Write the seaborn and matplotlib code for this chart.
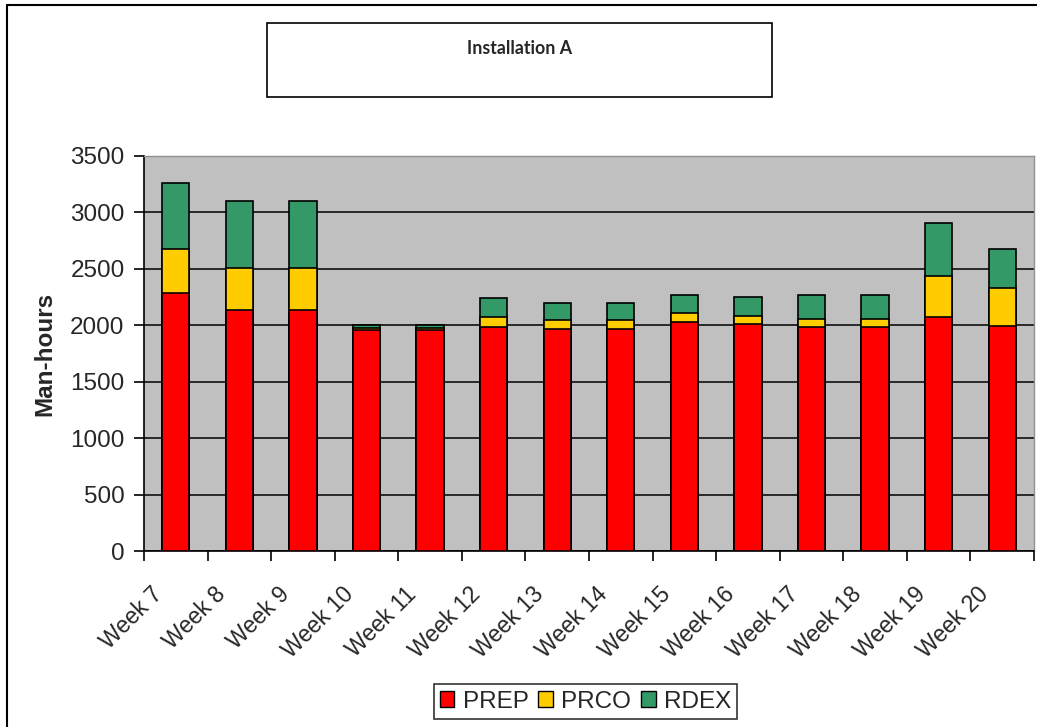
import matplotlib
matplotlib.use("Agg")
import matplotlib.pyplot as plt
import matplotlib.transforms as mtransforms
import seaborn as sns
import pandas as pd
import numpy as np
from matplotlib.patches import Rectangle, Patch
from matplotlib.lines import Line2D

weeks = ["Week 7", "Week 8", "Week 9", "Week 10", "Week 11", "Week 12", "Week 13",
         "Week 14", "Week 15", "Week 16", "Week 17", "Week 18", "Week 19", "Week 20"]
prep = [2285, 2135, 2135, 1955, 1955, 1985, 1970, 1970, 2030, 2015, 1985, 1985, 2075, 1990]
prco = [390, 375, 375, 25, 25, 90, 75, 75, 75, 65, 75, 75, 360, 340]
rdex = [590, 590, 590, 20, 20, 170, 155, 155, 165, 175, 210, 210, 470, 345]
series = ["PREP", "PRCO", "RDEX"]
colors = {"PREP": "#FF0000", "PRCO": "#FFCC00", "RDEX": "#339966"}

sns.set_theme(style="white")
plt.rcParams['font.family'] = ['Liberation Sans', 'DejaVu Sans']

FS = 17.5
W, H = 1037, 727
fig = plt.figure(figsize=(W / 100, H / 100), dpi=100)
ax = fig.add_axes([144 / W, (H - 551) / H, 890 / W, 395 / H])
ax.set_facecolor("#C0C0C0")

df = pd.DataFrame({"week": weeks, "PREP": prep, "PRCO": prco, "RDEX": rdex})
df["c1"] = df["PREP"]
df["c2"] = df["PREP"] + df["PRCO"]
df["c3"] = df["c2"] + df["RDEX"]

for col, s in [("c3", "RDEX"), ("c2", "PRCO"), ("c1", "PREP")]:
    sns.barplot(data=df, x="week", y=col, color=colors[s], width=0.43,
                edgecolor="black", linewidth=1.2, saturation=1, ax=ax, zorder=3)

ax.set_ylim(0, 3500)
ax.set_xlim(-0.5, len(weeks) - 0.5)
ax.set_yticks(np.arange(0, 3501, 500))
ax.yaxis.grid(True, color="black", linewidth=1.1, zorder=1)
ax.set_axisbelow(True)
for s in ["top", "right"]:
    ax.spines[s].set_color("#909090")
    ax.spines[s].set_linewidth(1)
for s in ["left", "bottom"]:
    ax.spines[s].set_color("black")
    ax.spines[s].set_linewidth(1.2)

ax.set_xticks(np.arange(len(weeks)))
ax.set_xticklabels(weeks, rotation=45, ha="right", va="top", rotation_mode="anchor",
                   fontsize=16.5)
ax.tick_params(axis="x", length=0, pad=12)
offset = mtransforms.ScaledTranslation(-25 / 100, -15 / 100, fig.dpi_scale_trans)
for lab in ax.get_xticklabels():
    lab.set_transform(lab.get_transform() + offset)
ax.set_xticks(np.arange(len(weeks) + 1) - 0.5, minor=True)
ax.tick_params(axis="x", which="minor", length=7, width=1.2, color="black", direction="out",
               bottom=True)
ax.tick_params(axis="y", length=7, width=1.2, color="black", direction="out", left=True,
               labelsize=FS, pad=7)
ax.set_xlabel("")
ax.set_ylabel("Man-hours", fontsize=FS, fontweight="bold", labelpad=10)

# Title box
fig.patches.append(Rectangle((267 / W, 1 - 97 / H), (772 - 267) / W, (97 - 23) / H,
                             transform=fig.transFigure, facecolor="white",
                             edgecolor="black", linewidth=1.2))
fig.text(519.5 / W, 1 - 48 / H, "Installation A", ha="center", va="center",
         fontsize=12.8, fontweight="bold", family=["Lato", "DejaVu Sans"])

# Outer chart border (left and top visible)
fig.add_artist(Line2D([7 / W, 7 / W], [0, 1 - 5 / H], transform=fig.transFigure,
                      color="black", linewidth=1.5))
fig.add_artist(Line2D([7 / W, 1], [1 - 5 / H, 1 - 5 / H], transform=fig.transFigure,
                      color="black", linewidth=1.5))

handles = [Patch(facecolor=colors[s], edgecolor="black", linewidth=1) for s in series]
leg = fig.legend(handles, series, loc="center", bbox_to_anchor=(585.5 / W, 1 - 701.5 / H),
                 ncol=3, frameon=True, fontsize=FS, handlelength=0.6, handleheight=0.6,
                 handletextpad=0.35, columnspacing=0.4, borderpad=0.25, borderaxespad=0,
                 fancybox=False)
leg.get_frame().set_edgecolor("black")
leg.get_frame().set_linewidth(1.2)

fig.savefig("out.png", dpi=100)
